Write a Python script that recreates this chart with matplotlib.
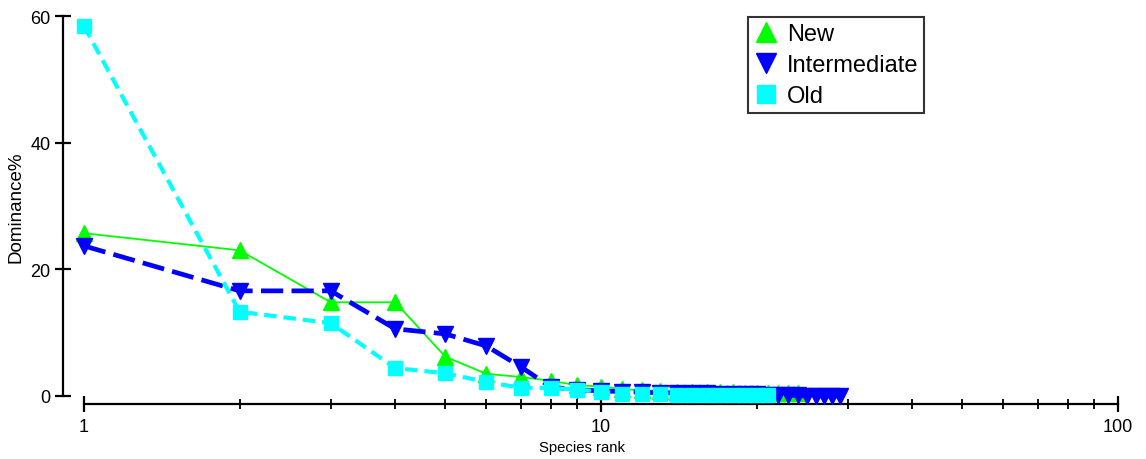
import matplotlib
matplotlib.use("Agg")
import matplotlib.pyplot as plt
from matplotlib.lines import Line2D
from matplotlib.ticker import LogLocator, NullFormatter, FixedLocator, FixedFormatter
import numpy as np

plt.rcParams['font.family'] = ['Liberation Sans', 'DejaVu Sans']
plt.rcParams['lines.scale_dashes'] = False

# Rank-abundance (dominance %) for three habitat ages
series_names = ["New", "Intermediate", "Old"]
new_dom = [25.7, 23.0, 14.8, 14.8, 6.2, 3.5, 3.0, 2.4, 1.7, 1.5, 1.1, 0.9, 0.8,
           0.7, 0.7, 0.6, 0.6, 0.6, 0.5, 0.5, 0.5, 0.5, 0.4, 0.4]
inter_dom = [23.7, 16.6, 16.6, 10.6, 9.8, 7.9, 4.6, 1.4, 1.0, 0.8, 0.7, 0.6, 0.5,
             0.5, 0.4, 0.4, 0.3, 0.3, 0.3, 0.3, 0.2, 0.1, 0.1, 0.1, 0.0, 0.0,
             0.0, 0.0, 0.0]
old_dom = [58.4, 13.3, 11.5, 4.4, 3.6, 2.2, 1.3, 1.3, 1.0, 0.7, 0.3, 0.3, 0.3,
           0.2, 0.2, 0.2, 0.2, 0.2, 0.2, 0.1, 0.1]
y_ticks = [0, 20, 40, 60]
x_ticks = [1, 10, 100]

W, H = 1146, 460
fig = plt.figure(figsize=(W / 100, H / 100), dpi=100)
ax = fig.add_axes([84 / W, (H - 397) / H, (1118 - 84) / W, (397 - 17) / H])

def ranks(vals):
    return np.arange(1, len(vals) + 1)

ax.plot(ranks(new_dom), new_dom, color='#00ff00', lw=1.3, ls='-',
        marker='^', ms=11, mec='#00ff00', clip_on=False, zorder=3)
ax.plot(ranks(inter_dom), inter_dom, color='#0000ff', lw=3.4, ls=(0, (16, 6)),
        marker='v', ms=11, mec='#0000ff', clip_on=False, zorder=4)
ax.plot(ranks(old_dom), old_dom, color='#00ffff', lw=3.0, ls=(0, (9, 5)),
        marker='s', ms=10, mec='#00ffff', clip_on=False, zorder=5)

ax.set_xscale('log')
ax.set_xlim(1, 100)
ax.set_ylim(0, 60)

for s in ['top', 'right']:
    ax.spines[s].set_visible(False)
ax.spines['left'].set_position(('outward', 21 * 0.72))
ax.spines['bottom'].set_position(('outward', 8 * 0.72))
ax.spines['left'].set_linewidth(1.6)
ax.spines['bottom'].set_linewidth(1.6)

ax.yaxis.set_major_locator(FixedLocator(y_ticks))
ax.set_yticklabels([str(v) for v in y_ticks])
ax.xaxis.set_major_locator(FixedLocator(x_ticks))
ax.xaxis.set_major_formatter(FixedFormatter([str(v) for v in x_ticks]))
ax.xaxis.set_minor_locator(LogLocator(base=10, subs=np.arange(2, 10)))
ax.xaxis.set_minor_formatter(NullFormatter())
ax.tick_params(axis='y', which='major', direction='inout', length=11, width=1.6,
               labelsize=13, pad=3.5, colors='black')
ax.tick_params(axis='x', which='major', direction='inout', length=11, width=1.6,
               labelsize=13, pad=4.5)
ax.tick_params(axis='x', which='minor', direction='inout', length=7, width=1.3)

ax.set_ylabel('Dominance%', fontsize=13.5)
ax.yaxis.set_label_coords(-0.058, 0.5)
ax.set_xlabel('Species rank', fontsize=10.75)
ax.xaxis.set_label_coords((582 - 84) / (1118 - 84), (397 - 449) / 380 + 0.02)

handles = [
    Line2D([], [], ls='none', marker='^', ms=15, color='#00ff00'),
    Line2D([], [], ls='none', marker='v', ms=15, color='#0000ff'),
    Line2D([], [], ls='none', marker='s', ms=13, color='#00ffff'),
]
leg = fig.legend(handles, series_names, loc='upper left',
                 bbox_to_anchor=(748 / W, (H - 18) / H), fontsize=17,
                 frameon=True, fancybox=False, handlelength=1.0,
                 handletextpad=0.4, borderpad=0.25, labelspacing=0.38,
                 borderaxespad=0)
leg.get_frame().set_edgecolor('black')
leg.get_frame().set_linewidth(1.5)

fig.savefig('out.png', dpi=100)
